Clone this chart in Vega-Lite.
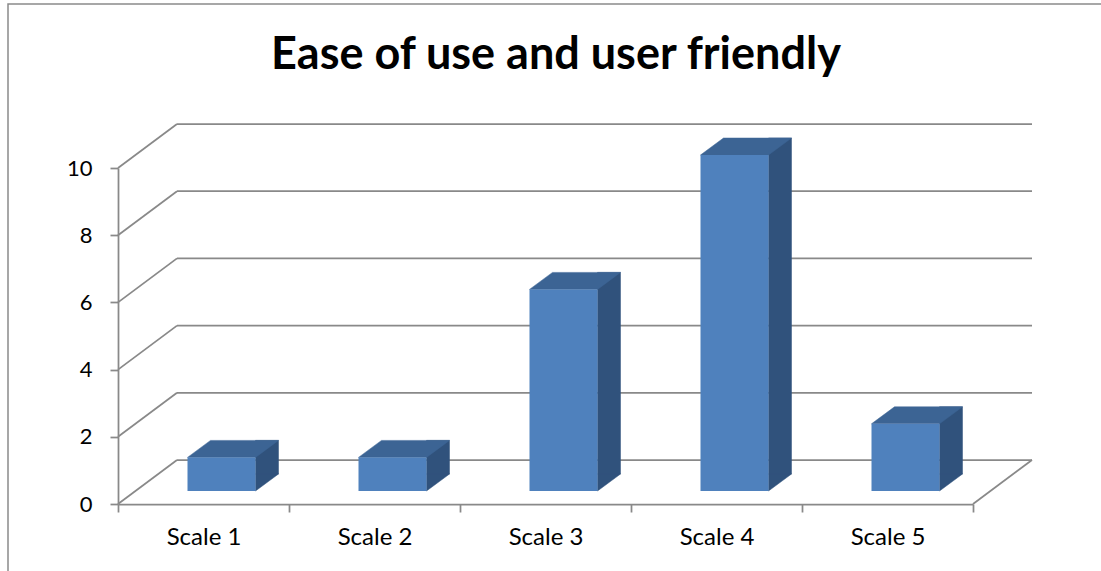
{
  "$schema": "https://vega.github.io/schema/vega-lite/v6.json",
  "width": 1100,
  "height": 570,
  "autosize": {"type": "none"},
  "padding": {"left": 8, "top": 4, "right": 0, "bottom": 0},
  "background": "white",
  "config": {
    "view": {"stroke": "#8a8a8a", "strokeWidth": 1.5},
    "font": "Lato"
  },
  "title": {
    "text": "Ease of use and user friendly",
    "font": "Lato",
    "fontSize": 45,
    "fontWeight": "bold",
    "color": "#000000",
    "anchor": "middle",
    "frame": "group",
    "baseline": "alphabetic",
    "offset": 0,
    "dy": 110,
    "dx": -2
  },
  "datasets": {
    "ratings": [
      {"scale": "Scale 1", "value": 1},
      {"scale": "Scale 2", "value": 1},
      {"scale": "Scale 3", "value": 6},
      {"scale": "Scale 4", "value": 10},
      {"scale": "Scale 5", "value": 2}
    ],
    "ticks": [
      {"v": 0}, {"v": 2}, {"v": 4}, {"v": 6}, {"v": 8}, {"v": 10}
    ]
  },
  "layer": [
    {
      "data": {"name": "ticks"},
      "mark": {"type": "rule", "color": "#898989", "strokeWidth": 1.75, "xOffset": 59, "x2Offset": 59, "yOffset": -44},
      "encoding": {
        "x": {"datum": "Scale 1", "type": "nominal", "bandPosition": 0, "title": null,
              "scale": {"domain": ["Scale 1", "Scale 2", "Scale 3", "Scale 4", "Scale 5"], "range": [110, 965], "paddingInner": 0, "paddingOuter": 0}},
        "x2": {"datum": "Scale 5", "bandPosition": 1},
        "y": {"field": "v", "type": "quantitative", "title": null,
              "scale": {"domain": [0, 10], "range": [500, 164], "nice": false, "zero": true}}
      }
    },
    {
      "data": {"name": "ticks"},
      "mark": {"type": "rule", "color": "#898989", "strokeWidth": 1.75, "x2Offset": 59, "y2Offset": -44},
      "encoding": {
        "x": {"datum": "Scale 1", "type": "nominal", "bandPosition": 0, "title": null},
        "x2": {"datum": "Scale 1", "bandPosition": 0},
        "y": {"field": "v", "type": "quantitative", "title": null},
        "y2": {"field": "v"}
      }
    },
    {
      "data": {"name": "ticks"},
      "transform": [{"filter": "datum.v == 0"}],
      "mark": {"type": "rule", "color": "#898989", "strokeWidth": 1.75, "x2Offset": 59, "y2Offset": -44},
      "encoding": {
        "x": {"datum": "Scale 5", "type": "nominal", "bandPosition": 1, "title": null},
        "x2": {"datum": "Scale 5", "bandPosition": 1},
        "y": {"field": "v", "type": "quantitative", "title": null},
        "y2": {"field": "v"}
      }
    },
    {
      "data": {"name": "ratings"},
      "mark": {"type": "bar", "color": "#30527C", "stroke": "#30527C", "strokeWidth": 0.5, "width": 23, "xOffset": 63.5, "yOffset": -30, "y2Offset": -30},
      "encoding": {
        "x": {"field": "scale", "type": "nominal", "title": null},
        "y": {"field": "value", "type": "quantitative", "title": null},
        "y2": {"datum": 0}
      }
    },
    {
      "data": {"name": "ratings"},
      "mark": {"type": "point", "shape": "M0,0L0,-17L23,-17Z", "size": 4, "filled": true, "opacity": 1, "color": "#30527C", "stroke": "#30527C", "strokeWidth": 0.5, "xOffset": 52, "yOffset": -13},
      "encoding": {
        "x": {"field": "scale", "type": "nominal", "title": null},
        "y": {"datum": 0, "type": "quantitative", "title": null}
      }
    },
    {
      "data": {"name": "ratings"},
      "mark": {"type": "point", "shape": "M-34,0L34,0L57,-17L-11,-17Z", "size": 4, "filled": true, "opacity": 1, "color": "#3C6494", "stroke": "#3C6494", "strokeWidth": 0.5, "xOffset": 18, "yOffset": -13},
      "encoding": {
        "x": {"field": "scale", "type": "nominal", "title": null},
        "y": {"field": "value", "type": "quantitative", "title": null}
      }
    },
    {
      "data": {"name": "ratings"},
      "mark": {"type": "bar", "color": "#4F81BD", "width": 68, "xOffset": 18, "yOffset": -13, "y2Offset": -13},
      "encoding": {
        "x": {"field": "scale", "type": "nominal", "title": null,
              "axis": {"title": null, "offset": -70, "tickBand": "extent", "tickSize": 8, "tickColor": "#898989", "tickWidth": 1.75,
                       "domainColor": "#898989", "domainWidth": 1.75, "labelFont": "Lato", "labelFontSize": 24,
                       "labelColor": "#000000", "labelPadding": 25, "labelAngle": 0, "labelAlign": "center", "grid": false}},
        "y": {"field": "value", "type": "quantitative", "title": null,
              "axis": {"title": null, "offset": -110, "values": [0, 2, 4, 6, 8, 10], "format": "d", "tickSize": 8, "tickColor": "#898989", "tickWidth": 1.75,
                       "domainColor": "#898989", "domainWidth": 1.75, "labelFont": "Lato", "labelFontSize": 22,
                       "labelColor": "#000000", "labelPadding": 18, "grid": false}},
        "y2": {"datum": 0}
      }
    }
  ]
}
